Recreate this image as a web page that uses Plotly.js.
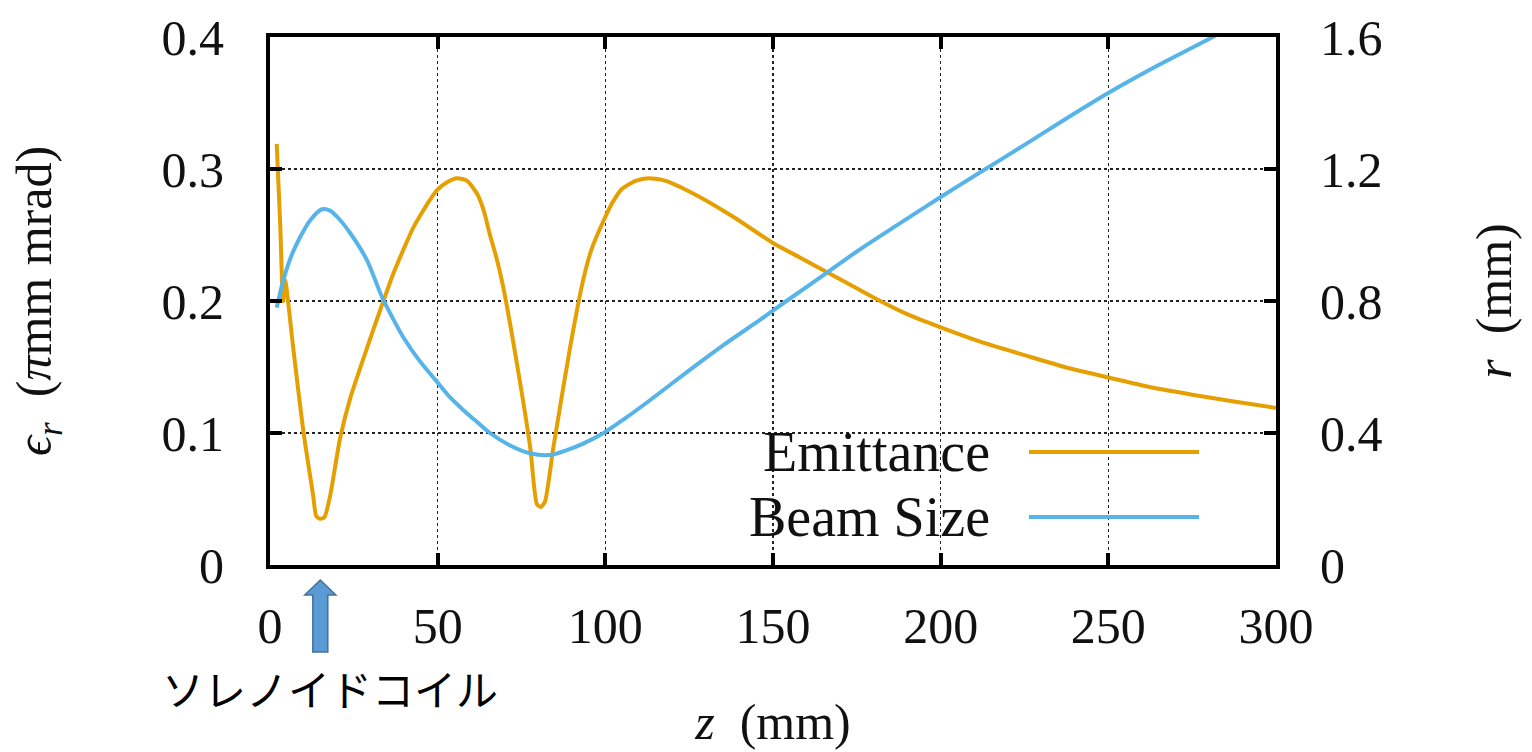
<!DOCTYPE html>
<html>
<head>
<meta charset="utf-8">
<script src="https://cdn.plot.ly/plotly-3.0.1.min.js"></script>
<style>
  html, body { margin: 0; padding: 0; background: #ffffff; }
  #chart { width: 1532px; height: 752px; }
</style>
</head>
<body>
<div id="chart"></div>
<script>
// ---- data ----
const seriesNames = ['Emittance', 'Beam Size'];

const emitZ = [2, 3, 3.9, 4.5, 6.9, 9.9, 12.9, 13.8, 15, 16.2, 17.9, 20.9, 24, 27.8, 30.5, 33.4, 36.5, 39.8, 42.8, 45.8, 47.8, 49.8, 52.8, 55.8, 58.8, 61.8, 63.8, 65.6, 67.6, 69.6, 73.6, 77.6, 79.6, 80.8, 82, 84.5, 89.5, 93.4, 96, 99.5, 102, 105, 109, 113, 118, 128, 138, 150, 158, 166, 174, 182, 190, 200, 212, 225, 237, 250, 262, 275, 287, 300];
const emitVal = [0.319, 0.261, 0.2, 0.216, 0.165, 0.102, 0.052, 0.037, 0.035, 0.036, 0.052, 0.096, 0.127, 0.156, 0.176, 0.197, 0.219, 0.239, 0.256, 0.269, 0.277, 0.284, 0.290, 0.293, 0.291, 0.281, 0.268, 0.250, 0.232, 0.210, 0.153, 0.089, 0.046, 0.044, 0.048, 0.089, 0.165, 0.216, 0.240, 0.261, 0.274, 0.285, 0.291, 0.293, 0.291, 0.279, 0.264, 0.244, 0.233, 0.222, 0.211, 0.200, 0.190, 0.180, 0.169, 0.159, 0.150, 0.142, 0.135, 0.129, 0.124, 0.119];

const beamZ = [2, 4, 6.5, 9, 12, 15.5, 17.9, 20.5, 23.9, 28.9, 33.4, 36.5, 39.7, 44.5, 49.8, 53.5, 57.6, 61, 65.6, 71.6, 76, 80, 84, 88.5, 93.4, 99.5, 106, 113.4, 125, 135, 146, 154, 166, 175, 187, 200, 211.8, 225, 237, 250.6, 265, 280.4, 290, 300];
const beamVal = [0.78, 0.864, 0.94, 0.994, 1.045, 1.078, 1.074, 1.05, 1.006, 0.924, 0.812, 0.75, 0.691, 0.62, 0.555, 0.51, 0.47, 0.44, 0.40, 0.362, 0.343, 0.334, 0.334, 0.348, 0.368, 0.40, 0.445, 0.50, 0.59, 0.665, 0.742, 0.80, 0.885, 0.95, 1.03, 1.115, 1.19, 1.273, 1.35, 1.434, 1.515, 1.596, 1.65, 1.70];

const xTickVals = [0, 50, 100, 150, 200, 250, 300];
const yTickVals = [0, 0.1, 0.2, 0.3, 0.4];
const y2TickVals = [0, 0.4, 0.8, 1.2, 1.6];
const xRange = [0, 300];
const yRange = [0, 0.4];
const y2Range = [0, 1.6];

const xTitle = '<i>z</i>\u00a0\u00a0(mm)';
const yTitle = '<i>ϵ</i><sub><i>r</i></sub>\u00a0\u00a0(<i>π</i>mm mrad)';
const y2Title = '<i>r</i>\u00a0\u00a0(mm)';
const coilLabel = 'ソレノイドコイル';
const coilZ = 15;

// ---- styling ----
const colors = ['#E69F00', '#56B4E9'];
const serif = '"Liberation Serif", "DejaVu Serif", serif';
const W = 1532, H = 752;
const margin = {l: 270, r: 256, t: 37, b: 187};
const plotW = W - margin.l - margin.r;
const plotH = H - margin.t - margin.b;

// helpers converting pixel positions to paper / data units (for annotation art only)
const pxX = px => (px - margin.l) / plotW;           // paper x
const pxY = py => (H - margin.b - py) / plotH;       // paper y
const zPerPx = (xRange[1] - xRange[0]) / plotW;

// arrow (block arrow below the axis, pointing at the coil position)
const ax = coilZ;
const hs = 7.5 * zPerPx, hh = 15.5 * zPerPx;
const arrowPath = [
  `M${ax},${pxY(580)}`,
  `L${ax + hh},${pxY(595)}`,
  `L${ax + hs},${pxY(595)}`,
  `L${ax + hs},${pxY(652)}`,
  `L${ax - hs},${pxY(652)}`,
  `L${ax - hs},${pxY(595)}`,
  `L${ax - hh},${pxY(595)}`,
  'Z'
].join(' ');

const traces = [
  {x: emitZ, y: emitVal, name: seriesNames[0], type: 'scatter', mode: 'lines',
   line: {color: colors[0], width: 4, shape: 'spline', smoothing: 0.6}, yaxis: 'y', showlegend: false},
  {x: beamZ, y: beamVal, name: seriesNames[1], type: 'scatter', mode: 'lines',
   line: {color: colors[1], width: 4, shape: 'spline', smoothing: 0.8}, yaxis: 'y2', showlegend: false}
];

const gridStyle = {showgrid: true, gridcolor: '#222222', gridwidth: 1.4, griddash: '3px,3px'};

const layout = {
  width: W, height: H,
  margin: margin,
  paper_bgcolor: '#ffffff', plot_bgcolor: '#ffffff',
  font: {family: serif, size: 48, color: '#111111'},
  showlegend: false,
  xaxis: Object.assign({
    range: xRange, tickvals: xTickVals, ticktext: xTickVals.map(String),
    ticks: 'inside', ticklen: 12, tickwidth: 4, tickcolor: '#000',
    showline: true, linewidth: 4, linecolor: '#000', mirror: 'ticks',
    zeroline: false, ticklabelstandoff: 14,
    tickfont: {family: serif, size: 50, color: '#111'},
    title: {text: xTitle, font: {family: serif, size: 50, color: '#111'}, standoff: 52}
  }, gridStyle),
  yaxis: Object.assign({
    range: yRange, tickvals: yTickVals, ticktext: ['0', '0.1', '0.2', '0.3', '0.4'],
    ticks: 'inside', ticklen: 12, tickwidth: 4, tickcolor: '#000',
    showline: true, linewidth: 4, linecolor: '#000', mirror: false,
    zeroline: false, ticklabelstandoff: 32,
    tickfont: {family: serif, size: 50, color: '#111'},
    title: {text: yTitle, font: {family: serif, size: 50, color: '#111'}, standoff: 95}
  }, gridStyle),
  yaxis2: {
    range: y2Range, tickvals: y2TickVals, ticktext: ['0', '0.4', '0.8', '1.2', '1.6'],
    overlaying: 'y', side: 'right',
    ticks: 'inside', ticklen: 12, tickwidth: 4, tickcolor: '#000',
    showline: true, linewidth: 4, linecolor: '#000',
    showgrid: false, zeroline: false, ticklabelstandoff: 30,
    tickfont: {family: serif, size: 50, color: '#111'},
    title: {text: y2Title, font: {family: serif, size: 50, color: '#111'}, standoff: 95}
  },
  shapes: [
    // white legend box hiding the grid behind the key
    {type: 'rect', xref: 'paper', yref: 'paper', x0: pxX(639), x1: pxX(1236), y0: 0, y1: pxY(423),
     fillcolor: '#ffffff', line: {width: 0}, layer: 'between'},
    // legend key lines
    {type: 'line', xref: 'paper', yref: 'paper', x0: pxX(1029), x1: pxX(1199), y0: pxY(452), y1: pxY(452),
     line: {color: colors[0], width: 4}},
    {type: 'line', xref: 'paper', yref: 'paper', x0: pxX(1029), x1: pxX(1199), y0: pxY(517), y1: pxY(517),
     line: {color: colors[1], width: 4}},
    // solenoid coil arrow
    {type: 'path', xref: 'x', yref: 'paper', path: arrowPath,
     fillcolor: '#5B9BD5', line: {color: '#41719C', width: 1.5}}
  ],
  annotations: [
    {xref: 'paper', yref: 'paper', x: pxX(992), y: pxY(452), xanchor: 'right', yanchor: 'middle',
     text: seriesNames[0], showarrow: false, font: {family: serif, size: 56, color: '#111'}},
    {xref: 'paper', yref: 'paper', x: pxX(992), y: pxY(517), xanchor: 'right', yanchor: 'middle',
     text: seriesNames[1], showarrow: false, font: {family: serif, size: 56, color: '#111'}},
    {xref: 'paper', yref: 'paper', x: pxX(330), y: pxY(687), xanchor: 'center', yanchor: 'middle',
     text: coilLabel, showarrow: false,
     font: {family: '"Noto Sans CJK JP", "Noto Sans", sans-serif', size: 42, color: '#000'}}
  ]
};

Plotly.newPlot('chart', traces, layout, {staticPlot: true, displayModeBar: false});
</script>
</body>
</html>
